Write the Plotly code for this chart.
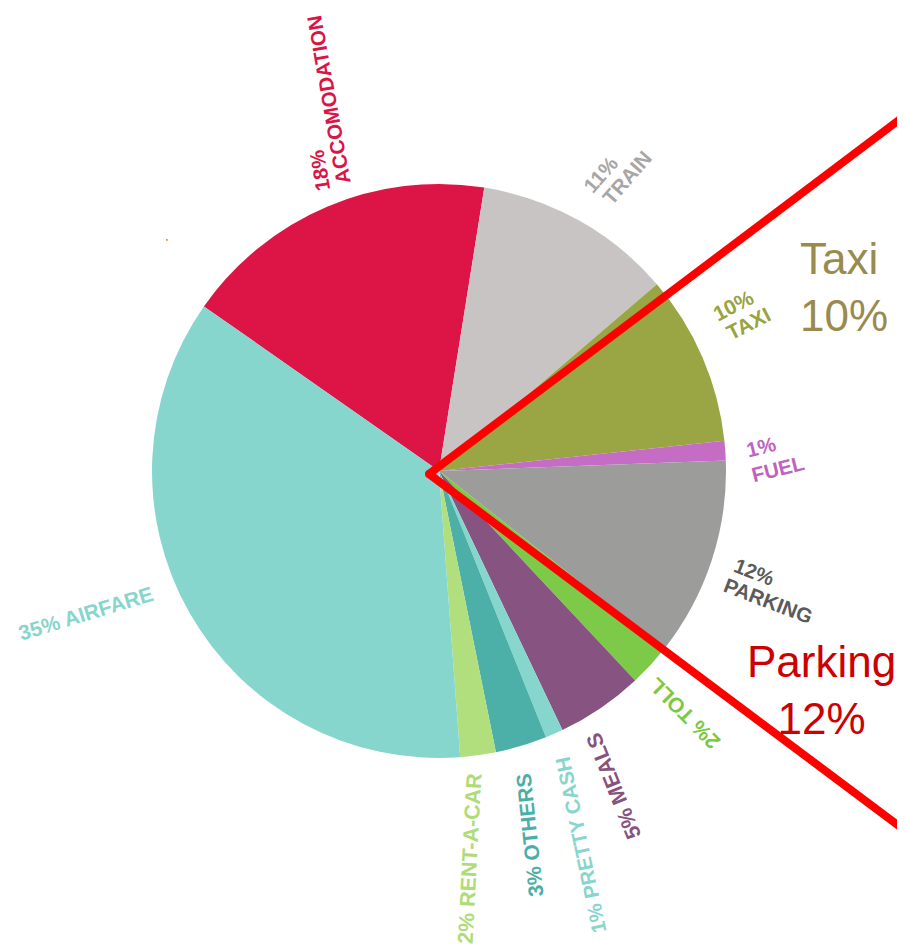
import plotly.graph_objects as go

# The page body has an 8px default margin; the figure is sized to fit the
# remaining visible area and coordinates below are in screenshot pixels.
OFF = 8
W, H = 905 - OFF, 947 - OFF

# ---- data ----
categories = ["ACCOMODATION", "TRAIN", "TAXI", "FUEL", "PARKING", "TOLL",
              "MEALS", "PRETTY CASH", "OTHERS", "RENT-A-CAR", "AIRFARE"]
# slice sizes as read from the drawn wedges
values = [17.8, 11.2, 9.6, 1.1, 11.2, 2.4, 4.9, 1.0, 2.9, 2.0, 35.9]
# percentages as printed on the labels
label_pct = [18, 11, 10, 1, 12, 2, 5, 1, 3, 2, 35]
slice_colors = ["#DC1546", "#C8C4C3", "#9AA543", "#C56CC4", "#9C9D9B", "#7DC948",
                "#875380", "#87D6CE", "#4DB0A8", "#B1DF7D", "#87D6CE"]
label_colors = ["#DC1446", "#A8A5A5", "#99A33F", "#C062C0", "#5B5B5B", "#7AC943",
                "#87527F", "#87D5CD", "#4BAFA7", "#AEDC76", "#87D5CD"]

# ---- label placement ----
# two-line labels: (pct line centre, name line centre, rotation, font size)
two_line = {
    "ACCOMODATION": ((320, 171), (328, 100), -100, 20.5),
    "TRAIN": ((600, 174), (627, 178), -49, 20.5),
    "TAXI": ((733, 305), (748, 323), -27, 21),
    "FUEL": ((761, 446), (778, 468), -14, 20.5),
    "PARKING": ((754, 571), (768, 600), 21, 20.5),
}
# one-line labels: (centre, rotation, font size)
one_line = {
    "TOLL": ((684, 714), 225, 21),
    "MEALS": ((614, 786), -112, 21.5),
    "PRETTY CASH": ((580, 845), -102, 20.5),
    "OTHERS": ((529, 835), -96, 21),
    "RENT-A-CAR": ((470, 859), -87, 21.5),
    "AIRFARE": ((85, 613), -17, 21),
}

def px(x):
    return (x - OFF) / W

def py(y):
    return 1 - (y - OFF) / H

cx, cy, r = 439, 471, 287

fig = go.Figure(go.Pie(
    labels=categories,
    values=values,
    marker=dict(colors=slice_colors, line=dict(width=0)),
    sort=False,
    direction="clockwise",
    rotation=-55.0,
    textinfo="none",
    hoverinfo="label",
    showlegend=False,
    domain=dict(x=[px(cx - r), px(cx + r)], y=[py(cy + r), py(cy - r)]),
))

LABEL_FONT = "Liberation Sans, Arial, sans-serif"
annotations = []

def add_text(text, pos, ang, size, color, weight="bold", align="center"):
    annotations.append(dict(
        x=px(pos[0]), y=py(pos[1]), xref="paper", yref="paper",
        text=text, showarrow=False, textangle=ang, align=align,
        xanchor="center", yanchor="middle",
        font=dict(family=LABEL_FONT, size=size, color=color, weight=weight),
    ))

for name, pct, col in zip(categories, label_pct, label_colors):
    if name in two_line:
        p1, p2, ang, fs = two_line[name]
        add_text(f"{pct}%", p1, ang, fs, col)
        add_text(name, p2, ang, fs, col)
    else:
        p, ang, fs = one_line[name]
        add_text(f"{pct}% {name}", p, ang, fs, col)

# call-out texts
add_text("Taxi<br>10%", (844, 287), 0, 44, "#998A4E", weight="normal", align="left")
add_text("Parking<br>12%", (821, 690), 0, 44, "#CC0000", weight="normal")
add_text("'", (167, 242), 0, 9, "#333333", weight="normal")

apex = (429, 474)
lw = 8
shapes = [
    dict(type="line", xref="paper", yref="paper",
         x0=px(903), y0=py(118), x1=px(903), y1=py(830),
         line=dict(color="#FF7070", width=1.2)),
    dict(type="line", xref="paper", yref="paper",
         x0=px(apex[0]), y0=py(apex[1]), x1=px(915), y1=py(108),
         line=dict(color="#FF0000", width=lw)),
    dict(type="line", xref="paper", yref="paper",
         x0=px(apex[0]), y0=py(apex[1]), x1=px(915), y1=py(838),
         line=dict(color="#FF0000", width=lw)),
    dict(type="circle", xref="paper", yref="paper",
         x0=px(apex[0] - lw / 2), y0=py(apex[1] + lw / 2),
         x1=px(apex[0] + lw / 2), y1=py(apex[1] - lw / 2),
         fillcolor="#FF0000", line=dict(width=0)),
]

fig.update_layout(
    width=W, height=H,
    margin=dict(l=0, r=0, t=0, b=0),
    paper_bgcolor="white", plot_bgcolor="white",
    annotations=annotations,
    shapes=shapes,
)

fig.write_html("out.html")
